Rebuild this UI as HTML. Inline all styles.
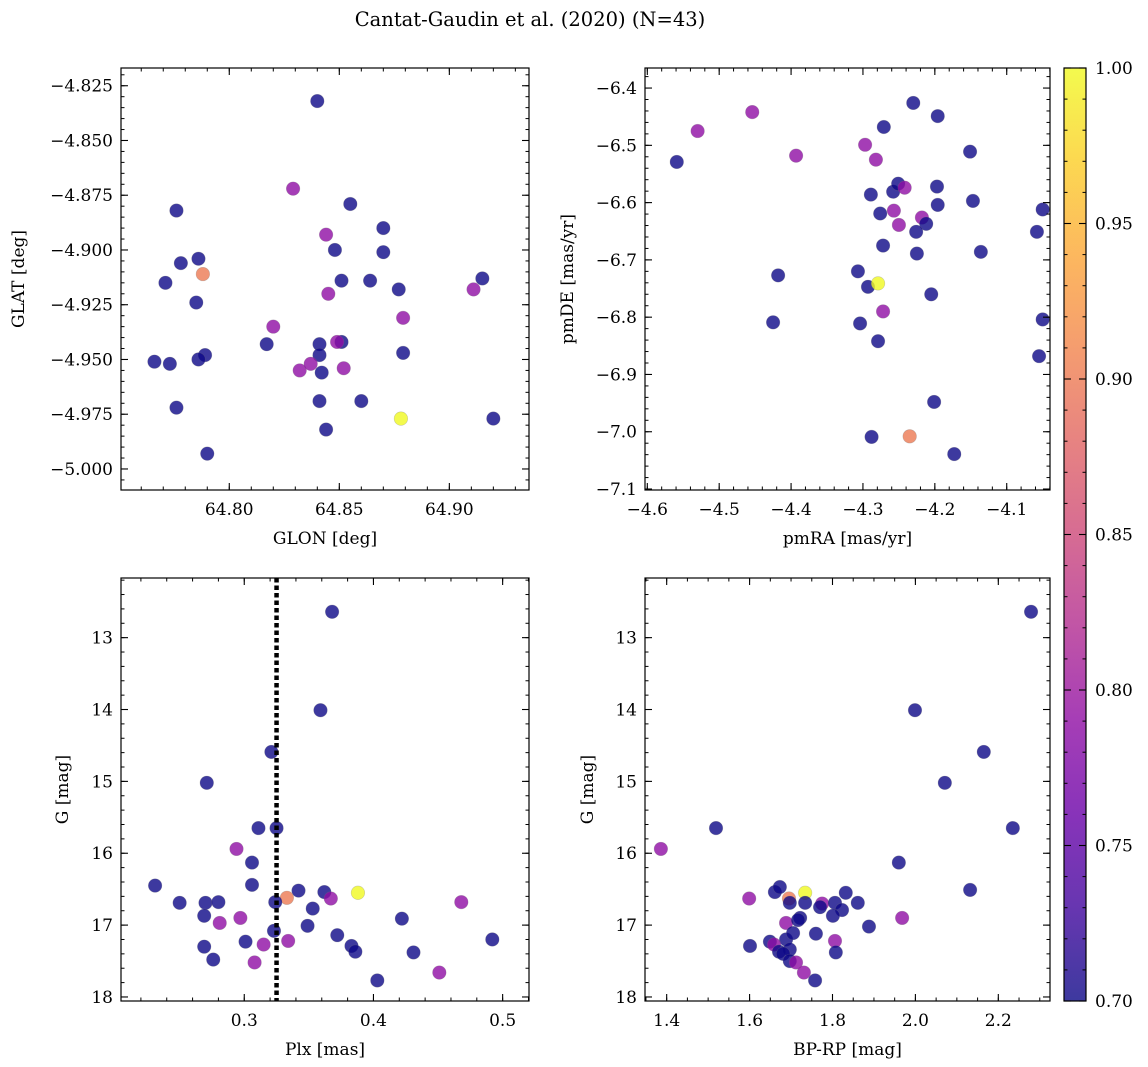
<!DOCTYPE html>
<html><head><meta charset="utf-8">
<style>
body{margin:0;background:#fff;}
svg{display:block;font-family:"DejaVu Serif","Liberation Serif",serif;}
</style></head>
<body>
<svg id="fig" width="1148" height="1067" viewBox="0 0 1148 1067" xmlns="http://www.w3.org/2000/svg">
<defs>
<linearGradient id="plasma" x1="0" y1="1" x2="0" y2="0">
<stop offset="0" stop-color="#0d0887"/><stop offset="0.1" stop-color="#41049d"/><stop offset="0.2" stop-color="#6a00a8"/><stop offset="0.3" stop-color="#8f0da4"/><stop offset="0.4" stop-color="#b12a90"/><stop offset="0.5" stop-color="#cc4778"/><stop offset="0.6" stop-color="#e16462"/><stop offset="0.7" stop-color="#f2844b"/><stop offset="0.8" stop-color="#fca636"/><stop offset="0.9" stop-color="#fcce25"/><stop offset="1" stop-color="#f0f921"/>
</linearGradient>
</defs>
<text x="530" y="26" font-size="19.5" text-anchor="middle">Cantat-Gaudin et al. (2020) (N=43)</text>
</svg>
<script>
// Panel 1: GLON / GLAT
const p1Glon=[64.840,64.829,64.776,64.855,64.844,64.870,64.786,64.778,64.848,64.870,64.788,64.771,64.851,64.864,64.877,64.915,64.911,64.845,64.785,64.879,64.820,64.817,64.841,64.851,64.849,64.841,64.789,64.786,64.766,64.773,64.879,64.832,64.837,64.852,64.842,64.860,64.841,64.776,64.878,64.920,64.844,64.790];
const p1Glat=[-4.832,-4.872,-4.882,-4.879,-4.893,-4.890,-4.904,-4.906,-4.900,-4.901,-4.911,-4.915,-4.914,-4.914,-4.918,-4.913,-4.918,-4.920,-4.924,-4.931,-4.935,-4.943,-4.943,-4.942,-4.942,-4.948,-4.948,-4.950,-4.951,-4.952,-4.947,-4.955,-4.952,-4.954,-4.956,-4.969,-4.969,-4.972,-4.977,-4.977,-4.982,-4.993];
const p1Prob=[0.70,0.79,0.70,0.70,0.79,0.70,0.70,0.70,0.70,0.70,0.90,0.70,0.70,0.70,0.70,0.70,0.79,0.79,0.70,0.79,0.79,0.70,0.70,0.70,0.79,0.70,0.70,0.70,0.70,0.70,0.70,0.79,0.79,0.79,0.70,0.70,0.70,0.70,1.00,0.70,0.70,0.70];
// Panel 2: pmRA / pmDE
const p2PmRA=[-4.559,-4.530,-4.454,-4.393,-4.230,-4.271,-4.196,-4.297,-4.151,-4.282,-4.289,-4.258,-4.251,-4.242,-4.197,-4.276,-4.196,-4.257,-4.218,-4.250,-4.212,-4.226,-4.147,-4.050,-4.058,-4.272,-4.225,-4.136,-4.418,-4.307,-4.293,-4.279,-4.205,-4.272,-4.425,-4.304,-4.279,-4.050,-4.055,-4.201,-4.288,-4.235,-4.173];
const p2PmDE=[-6.529,-6.475,-6.442,-6.518,-6.426,-6.468,-6.449,-6.499,-6.511,-6.525,-6.586,-6.581,-6.567,-6.574,-6.572,-6.619,-6.604,-6.614,-6.626,-6.639,-6.637,-6.651,-6.597,-6.612,-6.651,-6.675,-6.689,-6.686,-6.727,-6.720,-6.747,-6.741,-6.760,-6.790,-6.809,-6.811,-6.842,-6.804,-6.868,-6.948,-7.009,-7.008,-7.039];
const p2Prob=[0.70,0.79,0.79,0.79,0.70,0.70,0.70,0.79,0.70,0.79,0.70,0.70,0.70,0.79,0.70,0.70,0.70,0.79,0.79,0.79,0.70,0.70,0.70,0.70,0.70,0.70,0.70,0.70,0.70,0.70,0.70,1.00,0.70,0.79,0.70,0.70,0.70,0.70,0.70,0.70,0.70,0.90,0.70];
// Panel 3: Plx / G
const p3Plx=[0.368,0.359,0.321,0.271,0.311,0.325,0.294,0.306,0.231,0.306,0.388,0.362,0.342,0.333,0.367,0.250,0.270,0.280,0.324,0.353,0.468,0.269,0.297,0.281,0.422,0.349,0.323,0.372,0.334,0.301,0.315,0.269,0.383,0.386,0.492,0.431,0.276,0.308,0.451,0.403];
const p3G=[12.64,14.01,14.59,15.02,15.65,15.65,15.94,16.13,16.45,16.44,16.55,16.54,16.52,16.62,16.63,16.69,16.69,16.68,16.68,16.77,16.68,16.87,16.90,16.97,16.91,17.01,17.08,17.14,17.22,17.23,17.27,17.30,17.29,17.37,17.20,17.38,17.48,17.52,17.66,17.77];
const p3Prob=[0.70,0.70,0.70,0.70,0.70,0.70,0.79,0.70,0.70,0.70,1.00,0.70,0.70,0.90,0.79,0.70,0.70,0.70,0.70,0.70,0.79,0.70,0.79,0.79,0.70,0.70,0.70,0.70,0.79,0.70,0.79,0.70,0.70,0.70,0.70,0.70,0.70,0.79,0.79,0.70];
const plxLine=0.325;
// Panel 4: BP-RP / G
const p4Color=[2.279,1.999,2.165,2.071,1.386,1.519,2.235,1.960,1.601,1.599,1.661,1.673,1.734,1.695,1.697,1.734,1.775,1.806,1.832,1.823,1.861,1.801,1.722,1.688,1.717,1.806,1.688,1.649,1.659,1.697,1.671,1.681,1.808,1.760,1.888,1.697,1.712,1.731,1.758,2.132,1.968,1.705,1.770];
const p4G=[12.64,14.01,14.59,15.02,15.94,15.65,15.65,16.13,17.29,16.63,16.54,16.47,16.55,16.63,16.69,16.69,16.70,16.69,16.55,16.79,16.69,16.87,16.90,16.97,16.93,17.22,17.20,17.23,17.27,17.34,17.37,17.40,17.38,17.12,17.02,17.50,17.52,17.66,17.77,16.51,16.90,17.11,16.75];
const p4Prob=[0.70,0.70,0.70,0.70,0.79,0.70,0.70,0.70,0.70,0.79,0.70,0.70,1.00,0.90,0.70,0.70,0.79,0.70,0.70,0.70,0.70,0.70,0.70,0.79,0.70,0.79,0.70,0.70,0.79,0.70,0.70,0.70,0.70,0.70,0.70,0.70,0.79,0.79,0.70,0.70,0.79,0.70,0.70];
// ticks
const p1XTicks=[64.80,64.85,64.90], p1XLabels=["64.80","64.85","64.90"];
const p1YTicks=[-4.825,-4.85,-4.875,-4.9,-4.925,-4.95,-4.975,-5.0], p1YLabels=["−4.825","−4.850","−4.875","−4.900","−4.925","−4.950","−4.975","−5.000"];
const p2XTicks=[-4.6,-4.5,-4.4,-4.3,-4.2,-4.1], p2XLabels=["−4.6","−4.5","−4.4","−4.3","−4.2","−4.1"];
const p2YTicks=[-6.4,-6.5,-6.6,-6.7,-6.8,-6.9,-7.0,-7.1], p2YLabels=["−6.4","−6.5","−6.6","−6.7","−6.8","−6.9","−7.0","−7.1"];
const p3XTicks=[0.3,0.4,0.5], p3XLabels=["0.3","0.4","0.5"];
const gTicks=[13,14,15,16,17,18], gLabels=["13","14","15","16","17","18"];
const p4XTicks=[1.4,1.6,1.8,2.0,2.2], p4XLabels=["1.4","1.6","1.8","2.0","2.2"];
const cbTicks=[0.70,0.75,0.80,0.85,0.90,0.95,1.00], cbLabels=["0.70","0.75","0.80","0.85","0.90","0.95","1.00"];

const NS="http://www.w3.org/2000/svg";
const svg=document.getElementById('fig');
const FS=17;
function mk(tag,attrs,parent){const e=document.createElementNS(NS,tag);for(const k in attrs)e.setAttribute(k,attrs[k]);(parent||svg).appendChild(e);return e;}
const stops=[[0,[13,8,135]],[0.1,[65,4,157]],[0.2,[106,0,168]],[0.3,[143,13,164]],[0.4,[177,42,144]],[0.5,[204,71,120]],[0.6,[225,100,98]],[0.7,[242,132,75]],[0.8,[252,166,54]],[0.9,[252,206,37]],[1,[240,249,33]]];
function plasma(t){t=Math.max(0,Math.min(1,t));for(let i=1;i<stops.length;i++){if(t<=stops[i][0]){const a=stops[i-1],b=stops[i];const f=(t-a[0])/(b[0]-a[0]);const c=a[1].map((v,j)=>Math.round(v+(b[1][j]-v)*f));return `rgb(${c[0]},${c[1]},${c[2]})`;}}return 'rgb(240,249,33)';}

function panel(o){
  const g=mk('g',{});
  
  
  const sx=v=>o.x0+(v-o.xmin)/(o.xmax-o.xmin)*(o.x1-o.x0);
  const sy=o.yinv? (v=>o.y0+(v-o.ymin)/(o.ymax-o.ymin)*(o.y1-o.y0)) : (v=>o.y1-(v-o.ymin)/(o.ymax-o.ymin)*(o.y1-o.y0));
  for(let i=0;i<o.xs.length;i++){
    const c=mk('circle',{cx:sx(o.xs[i]),cy:sy(o.ys[i]),r:6.8,fill:plasma((o.ps[i]-0.7)/0.3),'fill-opacity':0.8,stroke:'#777','stroke-opacity':0.35,'stroke-width':0.6},g);
    
    
  }
  if(o.extra)o.extra(g,sx,sy);
  const f=mk('rect',{x:o.x0,y:o.y0,width:o.x1-o.x0,height:o.y1-o.y0,fill:'none',stroke:'#000','stroke-width':1.2},g);
  
  
  const lo=Math.min(o.xmin,o.xmax),hi=Math.max(o.xmin,o.xmax);
  for(let k=Math.ceil(lo/o.xminor-1e-6);k*o.xminor<=hi+1e-9;k++){const x=sx(k*o.xminor);mk('line',{x1:x,x2:x,y1:o.y1,y2:o.y1-3.5,stroke:'#000','stroke-width':1},g);mk('line',{x1:x,x2:x,y1:o.y0,y2:o.y0+3.5,stroke:'#000','stroke-width':1},g);}
  const ylo=Math.min(o.ymin,o.ymax),yhi=Math.max(o.ymin,o.ymax);
  for(let k=Math.ceil(ylo/o.yminor-1e-6);k*o.yminor<=yhi+1e-9;k++){const y=sy(k*o.yminor);mk('line',{x1:o.x0,x2:o.x0+3.5,y1:y,y2:y,stroke:'#000','stroke-width':1},g);mk('line',{x1:o.x1,x2:o.x1-3.5,y1:y,y2:y,stroke:'#000','stroke-width':1},g);}
  o.xt.forEach((v,i)=>{const x=sx(v);mk('line',{x1:x,x2:x,y1:o.y1,y2:o.y1-7,stroke:'#000','stroke-width':1.1},g);mk('line',{x1:x,x2:x,y1:o.y0,y2:o.y0+7,stroke:'#000','stroke-width':1.1},g);
    const t=mk('text',{x:x,y:o.y1+25,'font-size':FS,'text-anchor':'middle'},g);t.textContent=o.xl[i];
    
    });
  o.yt.forEach((v,i)=>{const y=sy(v);mk('line',{x1:o.x0,x2:o.x0+7,y1:y,y2:y,stroke:'#000','stroke-width':1.1},g);mk('line',{x1:o.x1,x2:o.x1-7,y1:y,y2:y,stroke:'#000','stroke-width':1.1},g);
    const t=mk('text',{x:o.x0-8,y:y+6,'font-size':FS,'text-anchor':'end'},g);t.textContent=o.yl[i];
    
    });
  const xt=mk('text',{x:(o.x0+o.x1)/2,y:o.y1+54,'font-size':FS,'text-anchor':'middle'},g);xt.textContent=o.xlabel;
  
  
  const yx=o.ylabelX, yy=(o.y0+o.y1)/2;
  const yt=mk('text',{x:yx,y:yy,'font-size':FS,'text-anchor':'middle',transform:`rotate(-90 ${yx} ${yy})`},g);yt.textContent=o.ylabel;
  
  
}

panel({name:'glon-glat-panel',x0:121,x1:529,y0:68,y1:490,xmin:64.7508,xmax:64.9362,ymin:-5.0096,ymax:-4.8169,xs:p1Glon,ys:p1Glat,ps:p1Prob,xt:p1XTicks,xl:p1XLabels,yt:p1YTicks,yl:p1YLabels,xminor:0.01,yminor:0.005,xlabel:'GLON [deg]',ylabel:'GLAT [deg]',ylabelX:24});
panel({name:'proper-motion-panel',x0:645,x1:1050,y0:68,y1:490,xmin:-4.6032,xmax:-4.0398,ymin:-7.1017,ymax:-6.365,xs:p2PmRA,ys:p2PmDE,ps:p2Prob,xt:p2XTicks,xl:p2XLabels,yt:p2YTicks,yl:p2YLabels,xminor:0.02,yminor:0.02,xlabel:'pmRA [mas/yr]',ylabel:'pmDE [mas/yr]',ylabelX:573});
panel({name:'plx-g-panel',x0:121,x1:529,y0:578,y1:1001,xmin:0.2046,xmax:0.5204,ymin:12.17,ymax:18.056,yinv:true,xs:p3Plx,ys:p3G,ps:p3Prob,xt:p3XTicks,xl:p3XLabels,yt:gTicks,yl:gLabels,xminor:0.02,yminor:0.2,xlabel:'Plx [mas]',ylabel:'G [mag]',ylabelX:68,
  extra:(g,sx,sy)=>{const l=mk('line',{x1:sx(plxLine),x2:sx(plxLine),y1:578,y2:1001,stroke:'#000','stroke-width':4.5,'stroke-dasharray':'4.5,3'},g);
    
    }});
panel({name:'cmd-panel',x0:645,x1:1050,y0:578,y1:1001,xmin:1.3477,xmax:2.3247,ymin:12.17,ymax:18.056,yinv:true,xs:p4Color,ys:p4G,ps:p4Prob,xt:p4XTicks,xl:p4XLabels,yt:gTicks,yl:gLabels,xminor:0.05,yminor:0.2,xlabel:'BP-RP [mag]',ylabel:'G [mag]',ylabelX:593});

const cb=mk('g',{});


const cbx0=1064,cbx1=1086,cby0=68,cby1=1001;
const cy=v=>cby1-(v-0.70)/0.30*(cby1-cby0);
mk('rect',{x:cbx0,y:cby0,width:cbx1-cbx0,height:cby1-cby0,fill:'url(#plasma)','fill-opacity':0.8},cb);
mk('rect',{x:cbx0,y:cby0,width:cbx1-cbx0,height:cby1-cby0,fill:'none',stroke:'#000','stroke-width':1.2},cb);
for(let k=70;k<=100;k++){const y=cy(k/100);mk('line',{x1:cbx1,x2:cbx1-3.5,y1:y,y2:y,stroke:'#000','stroke-width':1},cb);mk('line',{x1:cbx0,x2:cbx0+3.5,y1:y,y2:y,stroke:'#000','stroke-width':1},cb);}
cbTicks.forEach((v,i)=>{const y=cy(v);mk('line',{x1:cbx1,x2:cbx1-7,y1:y,y2:y,stroke:'#000','stroke-width':1.1},cb);mk('line',{x1:cbx0,x2:cbx0+7,y1:y,y2:y,stroke:'#000','stroke-width':1.1},cb);
  const t=mk('text',{x:cbx1+9,y:y+6,'font-size':FS},cb);t.textContent=cbLabels[i];
  
  });
</script>
</body></html>
